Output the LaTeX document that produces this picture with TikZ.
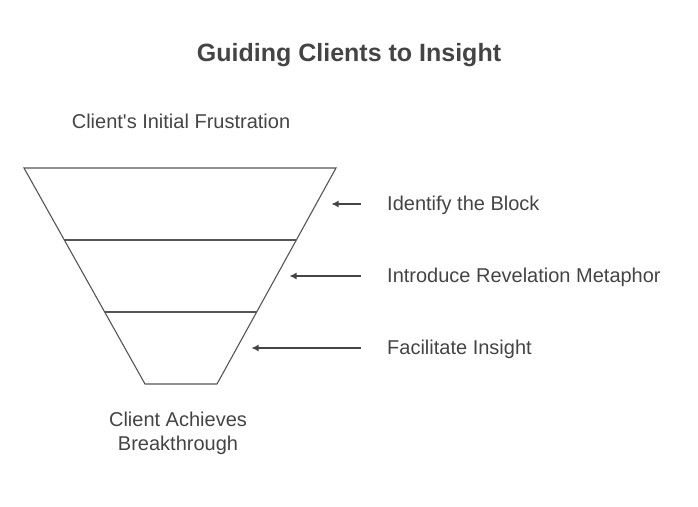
\documentclass[tikz,border=0pt]{standalone}
\usepackage{fontspec}
\setmainfont{Liberation Sans}
\usetikzlibrary{arrows.meta}
\definecolor{txt}{HTML}{444444}
\definecolor{ln}{HTML}{555555}
\tikzset{
  px/.style={x=1pt,y=-1pt},
  lbl/.style={text=txt,font=\fontsize{20}{24}\selectfont,inner sep=0pt,yshift=-1.5pt},
  ttl/.style={text=txt,font=\fontsize{25}{30}\selectfont\bfseries,inner sep=0pt,yshift=-1.5pt},
  funnel/.style={draw=ln,line width=1.1pt},
  pointer/.style={draw=txt,line width=1.3pt,-{Latex[length=7pt,width=7pt]}}
}
\begin{document}
\begin{tikzpicture}[px]
\useasboundingbox (0,0) rectangle (698,506);
\node[ttl] (title) at (349,54) {Guiding Clients to Insight};
\node[lbl] (top) at (181,120) {Client\textquotesingle s Initial Frustration};
\node[lbl,align=center] (bottom) at (178,432) {Client Achieves\\Breakthrough};
% funnel
\coordinate (tl) at (24,168);
\coordinate (tr) at (336,168);
\coordinate (bl) at (145,384);
\coordinate (br) at (217,384);
\coordinate (l1) at (64.3,240);
\coordinate (r1) at (296.3,240);
\coordinate (l2) at (104.7,312);
\coordinate (r2) at (256.7,312);
\draw[funnel] (tl) -- (tr) -- (br) -- (bl) -- cycle;
\draw[funnel] (l1) -- (r1);
\draw[funnel] (l2) -- (r2);
% labels
\node[lbl,anchor=west] (s1) at (387,204) {Identify the Block};
\node[lbl,anchor=west] (s2) at (387,276) {Introduce Revelation Metaphor};
\node[lbl,anchor=west] (s3) at (387,348) {Facilitate Insight};
\coordinate (a1s) at (361,204);
\coordinate (a2s) at (361,276);
\coordinate (a3s) at (361,348);
\coordinate (a1e) at (331.5,204);
\coordinate (a2e) at (289.5,276);
\coordinate (a3e) at (251.5,348);
\draw[pointer] (a1s) -- (a1e);
\draw[pointer] (a2s) -- (a2e);
\draw[pointer] (a3s) -- (a3e);
\end{tikzpicture}
\end{document}
